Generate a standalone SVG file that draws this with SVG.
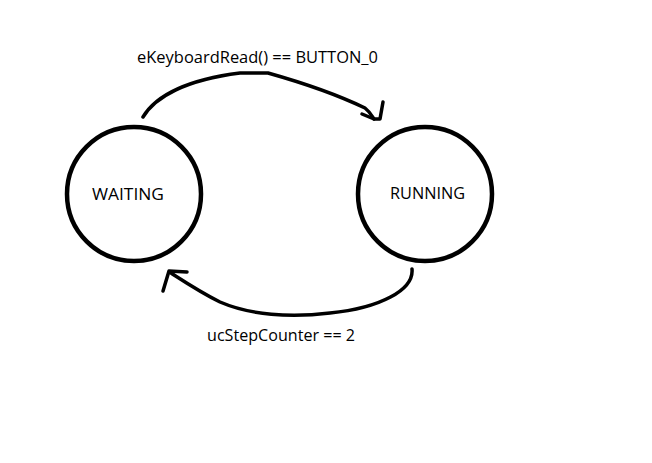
<svg xmlns="http://www.w3.org/2000/svg" width="652" height="463" viewBox="0 0 652 463">
<style>
.state{fill:#fff;stroke:#000;stroke-width:4.5}
.lbl{font-family:"Open Sans","Noto Sans",sans-serif;font-size:17px;fill:#000}
.edge{fill:none;stroke:#000;stroke-width:3.5;stroke-linecap:round;stroke-linejoin:round}
</style>
<rect width="652" height="463" fill="#fff"/>
<g id="waiting">
<circle class="state" cx="134" cy="194" r="67"/>
<text class="lbl" x="92" y="200" textLength="72" lengthAdjust="spacingAndGlyphs">WAITING</text>
</g>
<g id="running">
<circle class="state" cx="425" cy="194" r="67"/>
<text class="lbl" x="390" y="199" textLength="75" lengthAdjust="spacingAndGlyphs">RUNNING</text>
</g>
<g id="connectors">
<path class="edge" d="M143,117 C155,97 185,80 240,73 L268,73 C300,82 340,96 365,108 C370,112 372,116 374,119"/>
<path class="edge" d="M362,114 L374,119 L380,119 L383,102"/>
<path class="edge" d="M412,269 C414,290 380,308 330,313 C290,318 250,315 220,302 C200,292 185,282 171,273"/>
<path class="edge" d="M163,291 L169,271 L187,272"/>
<text class="lbl" x="137" y="63" textLength="241" lengthAdjust="spacingAndGlyphs">eKeyboardRead() == BUTTON_0</text>
<text class="lbl" x="207" y="341" textLength="148" lengthAdjust="spacingAndGlyphs">ucStepCounter == 2</text>
</g>
</svg>
